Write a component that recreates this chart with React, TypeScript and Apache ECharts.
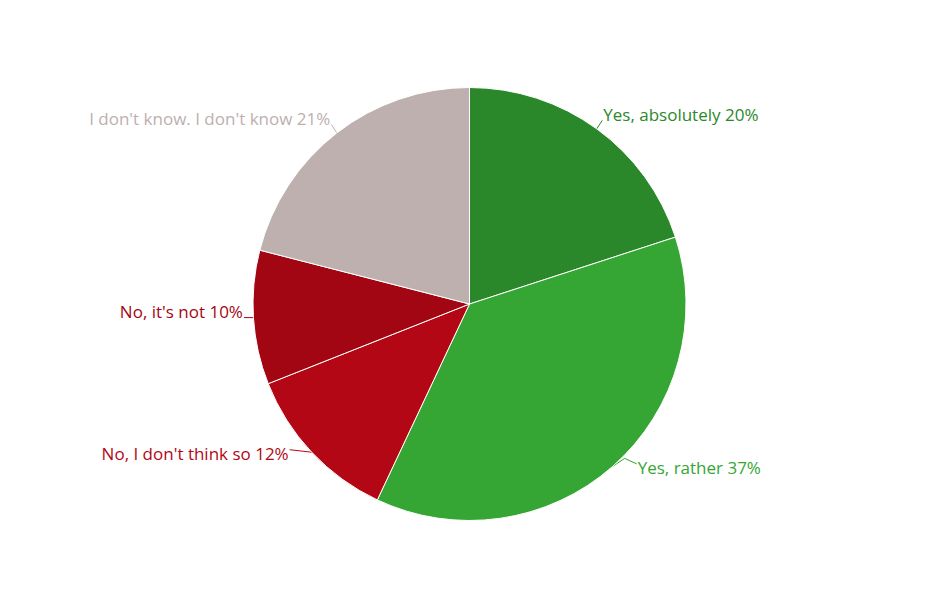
import React, { useEffect, useRef } from "react";
import * as echarts from "echarts";

const categories = [
  "Yes, absolutely",
  "Yes, rather",
  "No, I don't think so",
  "No, it's not",
  "I don't know. I don't know",
];
const values = [20, 37, 12, 10, 21];
const colors = ["#2a882a", "#35a633", "#b40715", "#a30613", "#bdb0af"];

const CX = 469.5;
const CY = 304;
const R = 216.5;

export default function App() {
  const ref = useRef<HTMLDivElement>(null);
  useEffect(() => {
    if (!ref.current) return;
    const chart = echarts.init(ref.current, null, { renderer: "svg" });
    chart.setOption({
      animation: false,
      backgroundColor: "#ffffff",
      series: [
        {
          type: "pie",
          center: [CX, CY],
          radius: [0, R],
          startAngle: 90,
          clockwise: true,
          avoidLabelOverlap: false,
          itemStyle: { borderColor: "#ffffff", borderWidth: 1 },
          label: {
            show: true,
            position: "outside",
            fontFamily: "Open Sans",
            fontSize: 17,
            formatter: (p: any) => `${p.name} ${p.value}%`,
          },
          labelLine: {
            show: true,
            length: 8,
            length2: 0,
            lineStyle: { width: 1 },
          },
          labelLayout: (params: any) => {
            const pts = params.labelLinePoints;
            if (!pts || !pts.length) return {};
            const ex = pts[0][0];
            const ey = pts[0][1];
            const right = ex >= CX;
            const s = right ? 1 : -1;
            const c = (CY - ey) / R; // cos from top
            let dx: number, dcy: number, k: number;
            if (c > 0.5) {
              dx = 6.5;
              dcy = -14.5;
              k = 6;
            } else if (c < -0.5) {
              dx = right ? 25 : 23;
              dcy = 1.5;
              k = -4;
            } else {
              dx = 10.5;
              dcy = -6;
              k = 6;
            }
            const lx = ex + s * dx;
            const ly = ey + dcy;
            const line: number[][] = [[ex, ey]];
            if (c < -0.5 && right) {
              line.push([ex + 12, ey - 8]);
            }
            line.push([lx - s * 1, ly + k]);
            return {
              x: lx,
              y: ly,
              align: right ? "left" : "right",
              verticalAlign: "middle",
              labelLinePoints: line,
            };
          },
          data: categories.map((c, i) => ({
            name: c,
            value: values[i],
            itemStyle: { color: colors[i] },
            label: { color: colors[i] },
            labelLine: { lineStyle: { color: colors[i] } },
          })),
        },
      ],
    });
    return () => chart.dispose();
  }, []);
  return (
    <div
      ref={ref}
      style={{ position: "fixed", left: 0, top: 0, width: 939, height: 608 }}
    />
  );
}
